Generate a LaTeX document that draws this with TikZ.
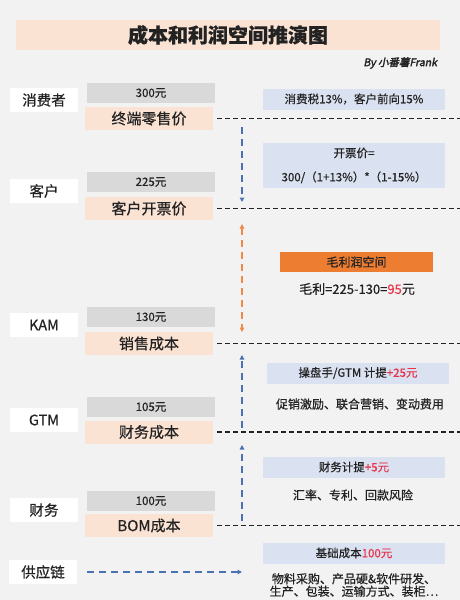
\documentclass[tikz,border=0pt]{standalone}
\usepackage{fontspec}
\setmainfont[FakeBold=0.5]{Noto Sans CJK SC}
\newfontfamily\byfont[FakeSlant=0.2,FakeBold=2.5]{Noto Sans CJK SC}
\usetikzlibrary{arrows.meta}
\definecolor{bg}{HTML}{F2F2F2}
\definecolor{peach}{HTML}{FBE3D4}
\definecolor{greybox}{HTML}{D9D9D9}
\definecolor{bluebox}{HTML}{DAE1F0}
\definecolor{orangebox}{HTML}{ED7D31}
\definecolor{bluearrow}{HTML}{4A72B0}
\definecolor{orangearrow}{HTML}{EE8A45}
\definecolor{redtext}{HTML}{E8334A}
\definecolor{txt}{HTML}{222222}
\begin{document}
\begin{tikzpicture}[x=1pt,y=-1pt,
  every node/.style={inner sep=0pt,outer sep=0pt,text=txt},
  labelbox/.style={fill=white,minimum width=68pt,minimum height=24pt,font=\fontsize{14.5}{16}\selectfont},
  greyrow/.style={fill=greybox,minimum width=128pt,minimum height=20pt,font=\fontsize{11.5}{13}\selectfont},
  peachrow/.style={fill=peach,minimum width=128pt,minimum height=23pt,font=\fontsize{15}{17}\selectfont},
  notebox/.style={fill=bluebox,minimum width=182pt,minimum height=21pt,font=\fontsize{11.5}{13}\selectfont},
  notetext/.style={font=\fontsize{12}{14}\selectfont,align=center},
  levelline/.style={draw=txt,line width=1.1pt,dash pattern=on 5pt off 3pt},
  bluearr/.style={draw=bluearrow,line width=1.6pt,dash pattern=on 7pt off 5pt,-{Triangle[length=4.5pt,width=4.5pt]}},
  orangearr/.style={draw=orangearrow,line width=1.6pt,dash pattern=on 7pt off 5pt,{Triangle[length=4.5pt,width=4.5pt]}-{Triangle[length=4.5pt,width=4.5pt]}}
]
\fill[bg] (0,0) rectangle (460,600);
\useasboundingbox (0,0) rectangle (460,600);

% title
\node[fill=peach,minimum width=424pt,minimum height=30pt] (titleband) at (228,35) {};
\node[font=\fontsize{20}{22}\selectfont\bfseries] (title) at (228,35) {成本和利润空间推演图};
\node[anchor=east,font=\byfont\fontsize{10.5}{12}\selectfont] (by) at (437,63) {By 小番薯Frank};

% left labels
\node[labelbox] (l1) at (44,100) {消费者};
\node[labelbox] (l2) at (44,191) {客户};
\node[labelbox] (l3) at (44,325) {KAM};
\node[labelbox] (l4) at (44,420) {GTM};
\node[labelbox] (l5) at (44,510) {财务};
\node[labelbox] (l6) at (43,572) {供应链};

% grey rows
\node[greyrow] (g1) at (151,93) {300元};
\node[greyrow] (g2) at (151,182) {225元};
\node[greyrow] (g3) at (151,317) {130元};
\node[greyrow] (g4) at (151,407) {105元};
\node[greyrow] (g5) at (151,501) {100元};

% peach rows
\node[peachrow] (p1) at (149,118.5) {终端零售价};
\node[peachrow] (p2) at (149,208.5) {客户开票价};
\node[peachrow] (p3) at (149,343.5) {销售成本};
\node[peachrow] (p4) at (149,432) {财务成本};
\node[peachrow] (p5) at (149,525.5) {BOM成本};

% level lines
\coordinate (e1) at (460,118.5);
\coordinate (e2) at (460,208.5);
\coordinate (e3) at (460,343.5);
\coordinate (e4) at (460,432);
\coordinate (e5) at (460,525.5);
\draw[levelline] ([xshift=4pt]p1.east) -- (e1);
\draw[levelline] ([xshift=4pt]p2.east) -- (e2);
\draw[levelline] ([xshift=4pt]p3.east) -- (e3);
\draw[levelline] ([xshift=4pt]p4.east) -- (e4);
\draw[levelline] ([xshift=4pt]p5.east) -- (e5);

% vertical arrows
\coordinate (a1s) at (242,127);
\coordinate (a1e) at (242,202);
\coordinate (a2s) at (242,224);
\coordinate (a2e) at (242,332);
\coordinate (a3s) at (242,428);
\coordinate (a3e) at (242,355);
\coordinate (a4s) at (242,521);
\coordinate (a4e) at (242,445);
\coordinate (a5e) at (242,572);
\draw[bluearr] (a1s) -- (a1e);
\draw[orangearr] (a2s) -- (a2e);
\draw[bluearr] (a3s) -- (a3e);
\draw[bluearr] (a4s) -- (a4e);
\draw[bluearr] ([xshift=10pt]l6.east) -- (a5e);

% right notes
\node[notebox] (n1) at (354,99) {消费税13\%，客户前向15\%};
\node[notebox,minimum height=45pt,align=center,font=\fontsize{11.5}{24}\selectfont] (n2) at (354,165.5) {开票价=\\300/（1+13\%）*（1-15\%）};
\node[fill=orangebox,minimum width=153pt,minimum height=20pt,font=\fontsize{12}{14}\selectfont] (n3) at (356.5,262) {毛利润空间};
\node[notetext,font=\fontsize{13}{15}\selectfont] (t3) at (357,289) {毛利=225-130=\textcolor{redtext}{95}元};
\node[notebox] (n4) at (358,373) {操盘手/GTM 计提\textcolor{redtext}{+25元}};
\node[notetext] (t4) at (360,404) {促销激励、联合营销、变动费用};
\node[notebox] (n5) at (354,467) {财务计提\textcolor{redtext}{+5元}};
\node[notetext] (t5) at (353,495) {汇率、专利、回款风险};
\node[notebox] (n6) at (354,553) {基础成本\textcolor{redtext}{100元}};
\node[notetext,font=\fontsize{12}{12.5}\selectfont] (t6) at (354,585) {物料采购、产品硬\&软件研发、\\生产、包装、运输方式、装柜…};
\end{tikzpicture}
\end{document}
